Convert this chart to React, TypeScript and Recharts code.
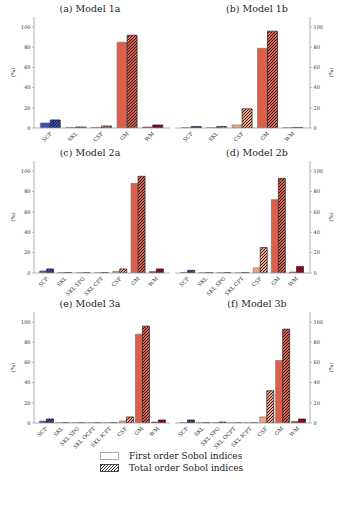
import React from 'react';
import { BarChart, Bar, XAxis, YAxis, Cell } from 'recharts';

const cats1 = ['SCP', 'SKL', 'CSF', 'GM', 'WM'];
const cats2 = ['SCP', 'SKL', 'SKL SPG', 'SKL CPT', 'CSF', 'GM', 'WM'];
const cats3 = ['SCP', 'SKL', 'SKL SPG', 'SKL OCPT', 'SKL ICPT', 'CSF', 'GM', 'WM'];

const first1a = [5, 0.5, 0.5, 85, 1];
const total1a = [8, 1, 2, 92, 3];
const first1b = [0.2, 0.2, 3, 79, 0.1];
const total1b = [1.5, 1.5, 19, 96, 0.3];
const first2a = [2, 0.2, 0.1, 0.1, 1.5, 88, 1.5];
const total2a = [4, 0.3, 0.2, 0.3, 4, 95, 4];
const first2b = [0.3, 0.1, 0.1, 0.1, 5, 72, 1];
const total2b = [2.7, 0.3, 0.3, 0.3, 25, 93, 6.5];
const first3a = [2, 0.1, 0.1, 0.1, 0.1, 2, 88, 1];
const total3a = [4, 0.2, 0.1, 0.1, 0.2, 6, 96, 3];
const first3b = [0.3, 0.1, 0.3, 0.1, 0.1, 6, 62, 1.6];
const total3b = [3, 0.2, 1, 0.1, 0.1, 32, 93, 4];

const yTicks = [0, 20, 40, 60, 80, 100];

const COLORS: Record<string, string> = {
  'SCP': '#3b4cc0',
  'SKL': '#cfb3a0',
  'SKL SPG': '#c9b2a6',
  'SKL CPT': '#d3b5a3',
  'SKL OCPT': '#d3b5a3',
  'SKL ICPT': '#dab8a4',
  'CSF': '#f4a283',
  'GM': '#dc5e4b',
  'WM': '#b40426',
};
const colorNames = Object.keys(COLORS);
const hatchId = (name: string) => `hatch${colorNames.indexOf(name)}`;

const FONT = '"DejaVu Serif", "Liberation Serif", serif';
const SPINE = '#9a9a9a';

function Patterns() {
  return (
    <svg width={0} height={0} style={{ position: 'absolute' }}>
      <defs>
        {colorNames.map((n) => (
          <pattern key={n} id={hatchId(n)} patternUnits="userSpaceOnUse" width={3} height={3}>
            <rect width={3} height={3} fill={COLORS[n]} />
            <path d="M-0.75,0.75 l1.5,-1.5 M0,3 l3,-3 M2.25,3.75 l1.5,-1.5" stroke="#111" strokeWidth={0.9} />
          </pattern>
        ))}
        <pattern id="hatchLegend" patternUnits="userSpaceOnUse" width={3} height={3}>
          <rect width={3} height={3} fill="#fff" />
          <path d="M-0.75,0.75 l1.5,-1.5 M0,3 l3,-3 M2.25,3.75 l1.5,-1.5" stroke="#111" strokeWidth={0.9} />
        </pattern>
      </defs>
    </svg>
  );
}

const XTick = (p: any) => {
  const { x, y, payload } = p;
  const ax = x + 1.5;
  const ay = y + 3;
  return (
    <text x={ax} y={ay} transform={`rotate(-45 ${ax} ${ay})`} textAnchor="end" fontSize={5.3} fill="#333" fontFamily={FONT}>
      {payload.value}
    </text>
  );
};

type PanelProps = {
  side: 'left' | 'right';
  top: number;
  plotBottom: number;
  cats: string[];
  first: number[];
  total: number[];
};

function Panel({ side, top, plotBottom, cats, first, total }: PanelProps) {
  const data = cats.map((c, i) => ({ name: c, first: first[i], total: total[i] }));
  const xh = 40;
  const isLeft = side === 'left';
  const width = isLeft ? 175 : 172;
  const left = isLeft ? 0 : 175;
  const height = plotBottom - top + xh;
  const yLabel = (props: any) => {
    const vb = props.viewBox;
    const lx = isLeft ? vb.x + 14 : vb.x + 22;
    const ly = vb.y + vb.height / 2;
    return (
      <text x={lx} y={ly} transform={`rotate(-90 ${lx} ${ly})`} textAnchor="middle" dominantBaseline="middle" fontSize={5.5} fill="#333" fontFamily={FONT}>
        (%)
      </text>
    );
  };
  return (
    <div style={{ position: 'absolute', left, top }}>
      <BarChart
        width={width}
        height={height}
        data={data}
        margin={{ top: 17, right: isLeft ? 5 : 0, left: 0, bottom: 0 }}
        barCategoryGap="9%"
        barGap={0}
      >
        <XAxis
          xAxisId="main"
          dataKey="name"
          height={xh}
          interval={0}
          padding={{ left: 4, right: 4 }}
          axisLine={{ stroke: SPINE, strokeWidth: 0.8 }}
          tickLine={false}
          tickSize={2}
          tickMargin={1}
          tick={<XTick />}
        />
        <XAxis
          xAxisId="frame"
          dataKey="name"
          orientation="top"
          height={0}
          tick={false}
          tickLine={false}
          axisLine={{ stroke: SPINE, strokeWidth: 0.8 }}
        />
        <YAxis
          yAxisId="main"
          orientation={isLeft ? 'left' : 'right'}
          width={isLeft ? 34 : 37}
          domain={[0, 110]}
          ticks={yTicks}
          allowDataOverflow
          axisLine={{ stroke: SPINE, strokeWidth: 0.8 }}
          tickLine={{ stroke: SPINE, strokeWidth: 0.6 }}
          tickSize={2}
          tickMargin={1.5}
          tick={{ fontSize: 5, fill: '#333', fontFamily: FONT }}
          label={{ content: yLabel }}
        />
        <YAxis
          yAxisId="frame"
          orientation={isLeft ? 'right' : 'left'}
          width={0}
          domain={[0, 110]}
          tick={false}
          tickLine={false}
          axisLine={{ stroke: SPINE, strokeWidth: 0.8 }}
        />
        <Bar dataKey="first" xAxisId="main" yAxisId="main" isAnimationActive={false} stroke="#777" strokeWidth={0.7}>
          {data.map((d) => (
            <Cell key={d.name} fill={COLORS[d.name]} />
          ))}
        </Bar>
        <Bar dataKey="total" xAxisId="main" yAxisId="main" isAnimationActive={false} stroke="#222" strokeWidth={0.7}>
          {data.map((d) => (
            <Cell key={d.name} fill={`url(#${hatchId(d.name)})`} />
          ))}
        </Bar>
      </BarChart>
    </div>
  );
}

const titleStyle = (cx: number, cy: number): React.CSSProperties => ({
  position: 'absolute',
  left: cx - 60,
  width: 120,
  top: cy - 7,
  height: 14,
  lineHeight: '14px',
  textAlign: 'center',
  fontFamily: FONT,
  fontSize: 9.5,
  color: '#222',
  whiteSpace: 'nowrap',
});

export default function App() {
  return (
    <div style={{ position: 'absolute', left: 0, top: 0, width: 347, height: 512, background: '#fff', overflow: 'hidden' }}>
      <Patterns />
      <Panel side="left" top={0} plotBottom={128} cats={cats1} first={first1a} total={total1a} />
      <Panel side="right" top={0} plotBottom={128} cats={cats1} first={first1b} total={total1b} />
      <Panel side="left" top={144} plotBottom={273} cats={cats2} first={first2a} total={total2a} />
      <Panel side="right" top={144} plotBottom={273} cats={cats2} first={first2b} total={total2b} />
      <Panel side="left" top={295} plotBottom={423} cats={cats3} first={first3a} total={total3a} />
      <Panel side="right" top={295} plotBottom={423} cats={cats3} first={first3b} total={total3b} />
      <div style={titleStyle(90, 9)}>(a) Model 1a</div>
      <div style={titleStyle(257, 9)}>(b) Model 1b</div>
      <div style={titleStyle(90, 153)}>(c) Model 2a</div>
      <div style={titleStyle(257, 153)}>(d) Model 2b</div>
      <div style={titleStyle(90, 304)}>(e) Model 3a</div>
      <div style={titleStyle(257, 304)}>(f) Model 3b</div>
      <div style={{ position: 'absolute', left: 100, top: 450, fontFamily: FONT, fontSize: 9, color: '#222' }}>
        <div style={{ display: 'flex', alignItems: 'center', height: 12 }}>
          <svg width={19} height={8} style={{ marginRight: 10 }}>
            <rect x={0.5} y={0.5} width={18} height={7} fill="#fff" stroke="#999" strokeWidth={0.8} />
          </svg>
          <span>First order Sobol indices</span>
        </div>
        <div style={{ display: 'flex', alignItems: 'center', height: 12 }}>
          <svg width={19} height={8} style={{ marginRight: 10 }}>
            <rect x={0.5} y={0.5} width={18} height={7} fill="url(#hatchLegend)" stroke="#222" strokeWidth={0.8} />
          </svg>
          <span>Total order Sobol indices</span>
        </div>
      </div>
    </div>
  );
}
